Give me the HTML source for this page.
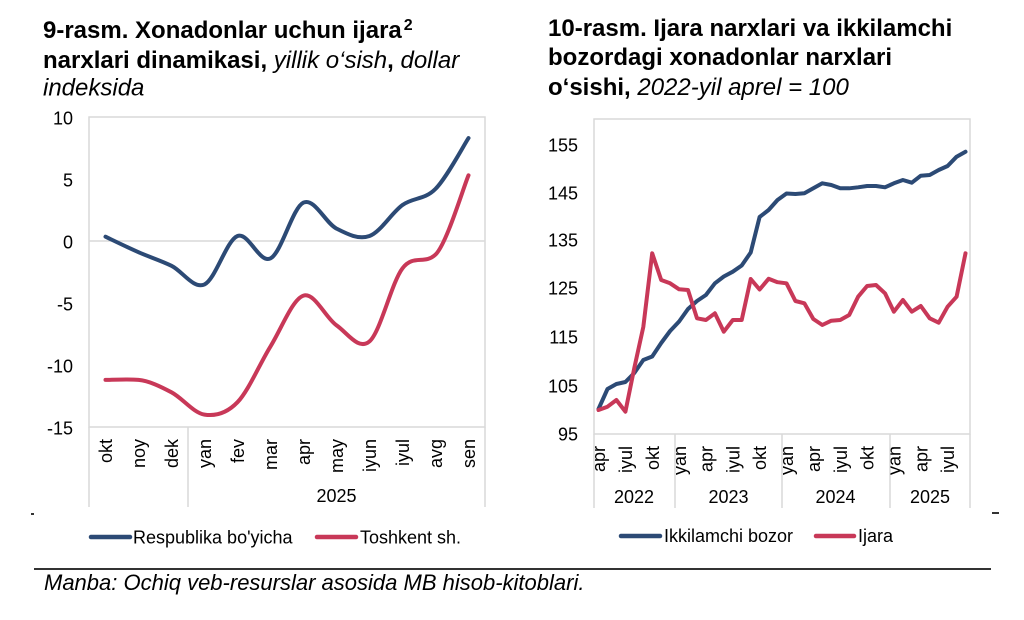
<!DOCTYPE html>
<html>
<head>
<meta charset="utf-8">
<style>
  html,body{margin:0;padding:0;background:#fff;}
  svg{display:block;}
  text{font-family:"Liberation Sans",Arial,sans-serif;fill:#000;}
  .t{font-size:24px;font-weight:bold;}
  .ti{font-weight:normal;font-style:italic;}
  .tk{font-size:18px;}
  .lg{font-size:18px;}
  .src{font-size:22px;font-style:italic;}
</style>
</head>
<body>
<svg width="1024" height="620" viewBox="0 0 1024 620" xmlns="http://www.w3.org/2000/svg">
  <rect width="1024" height="620" fill="#fff"/>

  <!-- ===== LEFT TITLE ===== -->
  <text class="t" x="43" y="38">9-rasm. Xonadonlar uchun ijara<tspan font-size="16" dy="-8" dx="2">2</tspan></text>
  <text class="t" x="43" y="68">narxlari dinamikasi, <tspan class="ti">yillik o‘sish</tspan>, <tspan class="ti">dollar</tspan></text>
  <text class="t" x="43" y="95.5"><tspan class="ti">indeksida</tspan></text>

  <!-- ===== RIGHT TITLE ===== -->
  <text class="t" x="548" y="36">10-rasm. Ijara narxlari va ikkilamchi</text>
  <text class="t" x="548" y="65">bozordagi xonadonlar narxlari</text>
  <text class="t" x="548" y="95">o‘sishi, <tspan class="ti">2022-yil aprel = 100</tspan></text>

  <!-- ===== LEFT CHART ===== -->
  <rect x="89" y="117" width="396" height="310" fill="none" stroke="#d9d9d9" stroke-width="1.5"/>
  <line x1="89" y1="241" x2="485" y2="241" stroke="#d9d9d9" stroke-width="1.5"/>
  <line x1="89" y1="427" x2="89" y2="507" stroke="#d9d9d9" stroke-width="1.5"/>
  <line x1="188" y1="427" x2="188" y2="507" stroke="#d9d9d9" stroke-width="1.5"/>
  <line x1="485" y1="427" x2="485" y2="507" stroke="#d9d9d9" stroke-width="1.5"/>

  <g class="tk" text-anchor="end">
    <text x="73" y="124.5">10</text>
    <text x="73" y="186.5">5</text>
    <text x="73" y="248.5">0</text>
    <text x="73" y="310.5">-5</text>
    <text x="73" y="372.5">-10</text>
    <text x="73" y="434.5">-15</text>
  </g>

  <g class="tk" text-anchor="end">
    <text transform="translate(112,439) rotate(-90)">okt</text>
    <text transform="translate(145,439) rotate(-90)">noy</text>
    <text transform="translate(178,439) rotate(-90)">dek</text>
    <text transform="translate(211,439) rotate(-90)">yan</text>
    <text transform="translate(244,439) rotate(-90)">fev</text>
    <text transform="translate(277,439) rotate(-90)">mar</text>
    <text transform="translate(310,439) rotate(-90)">apr</text>
    <text transform="translate(343,439) rotate(-90)">may</text>
    <text transform="translate(376,439) rotate(-90)">iyun</text>
    <text transform="translate(409,439) rotate(-90)">iyul</text>
    <text transform="translate(442,439) rotate(-90)">avg</text>
    <text transform="translate(475,439) rotate(-90)">sen</text>
  </g>
  <text class="tk" x="336.5" y="502" text-anchor="middle">2025</text>

  <!-- Left red (Toshkent) -->
  <path fill="none" stroke="#C83858" stroke-width="4" stroke-linecap="round" stroke-linejoin="round"
    d="M105.5 379.9 C111 379.9,127.5 378.8,138.5 379.9 C149.5 381,160.5 386.5,171.5 392.3 C182.5 398.1,193.5 413,204.5 414.6 C215.5 416.3,226.5 413.6,237.5 402.2 C248.5 390.8,259.5 364.2,270.5 346.4 C281.5 328.6,292.5 299.1,303.5 295.6 C314.5 292.1,325.5 317.7,336.5 325.3 C347.5 332.9,358.5 350.9,369.5 341.4 C380.5 331.9,391.5 282.8,402.5 268.3 C413.5 253.8,424.5 265.1,435.5 254.6 C446.5 244.1,463 188.5,468.5 175.3"/>
  <!-- Left blue (Respublika) -->
  <path fill="none" stroke="#2C4A75" stroke-width="4" stroke-linecap="round" stroke-linejoin="round"
    d="M105.5 236.7 C111 239.3,127.5 247.4,138.5 252.2 C149.5 257.1,160.5 260.4,171.5 265.8 C182.5 271.2,193.5 289.4,204.5 284.4 C215.5 279.4,226.5 240.3,237.5 236 C248.5 231.7,259.5 264,270.5 258.4 C281.5 252.8,292.5 207.6,303.5 202.6 C314.5 197.6,325.5 223,336.5 228.6 C347.5 234.2,358.5 239.9,369.5 236 C380.5 232.1,391.5 212.9,402.5 205 C413.5 197.2,424.5 200.1,435.5 188.9 C446.5 177.8,463 146.6,468.5 138.1"/>

  <!-- Left legend -->
  <line x1="91" y1="537" x2="130" y2="537" stroke="#2C4A75" stroke-width="4.5" stroke-linecap="round"/>
  <text class="lg" x="133" y="543.5">Respublika bo'yicha</text>
  <line x1="317" y1="537" x2="356" y2="537" stroke="#C83858" stroke-width="4.5" stroke-linecap="round"/>
  <text class="lg" x="360" y="543.5">Toshkent sh.</text>

  <!-- ===== RIGHT CHART ===== -->
  <rect x="594" y="119" width="376" height="315" fill="none" stroke="#d9d9d9" stroke-width="1.5"/>
  <line x1="594" y1="434" x2="594" y2="508" stroke="#d9d9d9" stroke-width="1.5"/>
  <line x1="675" y1="434" x2="675" y2="508" stroke="#d9d9d9" stroke-width="1.5"/>
  <line x1="782" y1="434" x2="782" y2="508" stroke="#d9d9d9" stroke-width="1.5"/>
  <line x1="890" y1="434" x2="890" y2="508" stroke="#d9d9d9" stroke-width="1.5"/>
  <line x1="970" y1="434" x2="970" y2="508" stroke="#d9d9d9" stroke-width="1.5"/>

  <g class="tk" text-anchor="end">
    <text x="578" y="151.5">155</text>
    <text x="578" y="199.5">145</text>
    <text x="578" y="246.5">135</text>
    <text x="578" y="294.5">125</text>
    <text x="578" y="343.5">115</text>
    <text x="578" y="392.5">105</text>
    <text x="578" y="440.5">95</text>
  </g>

  <g class="tk" text-anchor="end">
    <text transform="translate(605,446) rotate(-90)">apr</text>
    <text transform="translate(632,446) rotate(-90)">iyul</text>
    <text transform="translate(659,446) rotate(-90)">okt</text>
    <text transform="translate(686,446) rotate(-90)">yan</text>
    <text transform="translate(712.5,446) rotate(-90)">apr</text>
    <text transform="translate(739.5,446) rotate(-90)">iyul</text>
    <text transform="translate(766,446) rotate(-90)">okt</text>
    <text transform="translate(793,446) rotate(-90)">yan</text>
    <text transform="translate(820,446) rotate(-90)">apr</text>
    <text transform="translate(847,446) rotate(-90)">iyul</text>
    <text transform="translate(873.5,446) rotate(-90)">okt</text>
    <text transform="translate(900.5,446) rotate(-90)">yan</text>
    <text transform="translate(927.5,446) rotate(-90)">apr</text>
    <text transform="translate(954,446) rotate(-90)">iyul</text>
  </g>
  <g class="tk" text-anchor="middle">
    <text x="634" y="503">2022</text>
    <text x="728.5" y="503">2023</text>
    <text x="835.5" y="503">2024</text>
    <text x="930" y="503">2025</text>
  </g>

  <!-- Right blue (Ikkilamchi bozor) -->
  <polyline fill="none" stroke="#2C4A75" stroke-width="4" stroke-linecap="round" stroke-linejoin="round"
    points="598.5,409 607.5,389 616.4,384 625.4,382 634.3,373 643.3,360 652.2,356.5 661.2,343 670.1,331 679.1,321.5 688,309 697,301 705.9,295 714.9,283.3 723.8,276.5 732.8,271.7 741.7,265.5 750.7,252.5 759.6,217 768.6,210 777.5,200 786.5,193.5 795.4,194 804.4,193.3 813.3,188.3 822.3,183.3 831.3,185 840.2,188.3 849.2,188.3 858.1,187.3 867.1,186 876,186 885,187.3 893.9,183.3 902.9,180 911.8,182.7 920.8,175.7 929.7,175 938.7,170 947.6,166 956.6,156.7 965.5,151.7"/>
  <!-- Right red (Ijara) -->
  <polyline fill="none" stroke="#C83858" stroke-width="4" stroke-linecap="round" stroke-linejoin="round"
    points="598.5,410 607.5,406.7 616.4,400 625.4,411.7 634.3,368 643.3,327 652.2,253.3 661.2,280 670.1,283.3 679.1,289.3 688,290 697,318.3 705.9,320 714.9,313.3 723.8,331.7 732.8,320 741.7,320 750.7,279 759.6,289.5 768.6,278.8 777.5,282.2 786.5,283.3 795.4,301 804.4,303.3 813.3,319 822.3,325 831.3,320.7 840.2,320 849.2,315 858.1,296.7 867.1,286 876,285 885,293.3 893.9,311.7 902.9,300 911.8,311.7 920.8,306 929.7,318.3 938.7,322.7 947.6,306.7 956.6,296.7 965.5,253.3"/>

  <!-- Right legend -->
  <line x1="621" y1="536" x2="660" y2="536" stroke="#2C4A75" stroke-width="4.5" stroke-linecap="round"/>
  <text class="lg" x="664" y="542">Ikkilamchi bozor</text>
  <line x1="816" y1="536" x2="854" y2="536" stroke="#C83858" stroke-width="4.5" stroke-linecap="round"/>
  <text class="lg" x="858" y="542">Ijara</text>

  <!-- small marks -->
  <rect x="31" y="513" width="3" height="2" fill="#333"/>
  <rect x="992" y="512" width="7" height="2" fill="#333"/>

  <!-- Source -->
  <line x1="34" y1="569" x2="991" y2="569" stroke="#333" stroke-width="2"/>
  <text class="src" x="44" y="590">Manba: Ochiq veb-resurslar asosida MB hisob-kitoblari.</text>
</svg>
</body>
</html>
